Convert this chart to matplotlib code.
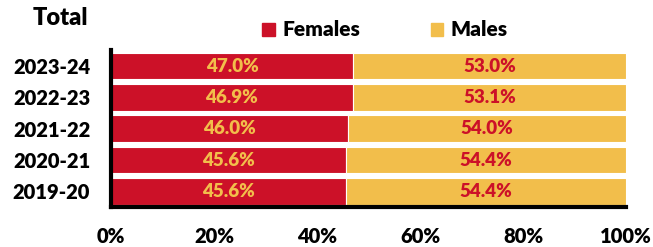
import matplotlib
matplotlib.use("Agg")
import matplotlib.pyplot as plt
from matplotlib.patches import Patch

years = ["2023-24", "2022-23", "2021-22", "2020-21", "2019-20"]
females = [47.0, 46.9, 46.0, 45.6, 45.6]
males = [53.0, 53.1, 54.0, 54.4, 54.4]
xticks = [0, 20, 40, 60, 80, 100]

RED = "#CC1128"
YEL = "#F2BE4B"
FONT = ["Lato", "DejaVu Sans"]
W = "heavy"

plt.rcParams["font.family"] = FONT
plt.rcParams["font.weight"] = W

fig = plt.figure(figsize=(6.53, 2.47), dpi=100)
ax = fig.add_axes([0.170, 0.162, 0.789, 0.634])

y = list(range(len(years)))[::-1]
h = 0.85
ax.barh(y, females, height=h, color=RED, edgecolor="white", linewidth=0.8)
ax.barh(y, males, left=females, height=h, color=YEL, edgecolor="white", linewidth=0.8)

for yi, f, m in zip(y, females, males):
    ax.text(f / 2, yi, f"{f:.1f}%", ha="center", va="center", color=YEL,
            fontsize=13.5, fontweight=W)
    ax.text(f + m / 2, yi, f"{m:.1f}%", ha="center", va="center", color=RED,
            fontsize=13.5, fontweight=W)

ax.set_xlim(0, 100)
ax.set_ylim(-0.5, len(years) - 0.5)
ax.set_yticks(y)
ax.set_yticklabels(years, fontsize=14.5, fontweight=W)
ax.set_xticks(xticks)
ax.set_xticklabels([f"{t}%" for t in xticks], fontsize=14.5, fontweight=W)
ax.tick_params(axis="both", length=0)
ax.tick_params(axis="x", pad=14.5)
ax.tick_params(axis="y", pad=15)
for s in ["top", "right"]:
    ax.spines[s].set_visible(False)
for s in ["left", "bottom"]:
    ax.spines[s].set_linewidth(3)
    ax.spines[s].set_color("black")

fig.text(88 / 653, 1 - 18 / 247, "Total", ha="right", va="center", fontsize=17, fontweight=W)

handles = [Patch(color=RED, label="Females"), Patch(color=YEL, label="Males")]
fig.legend(handles=handles, loc="center", bbox_to_anchor=(385 / 653, 1 - 30 / 247), ncol=2,
           frameon=False, handlelength=0.6, handleheight=0.6,
           columnspacing=3.4, handletextpad=0.35, prop={"weight": W, "size": 15})

fig.savefig("out.png", dpi=100)
